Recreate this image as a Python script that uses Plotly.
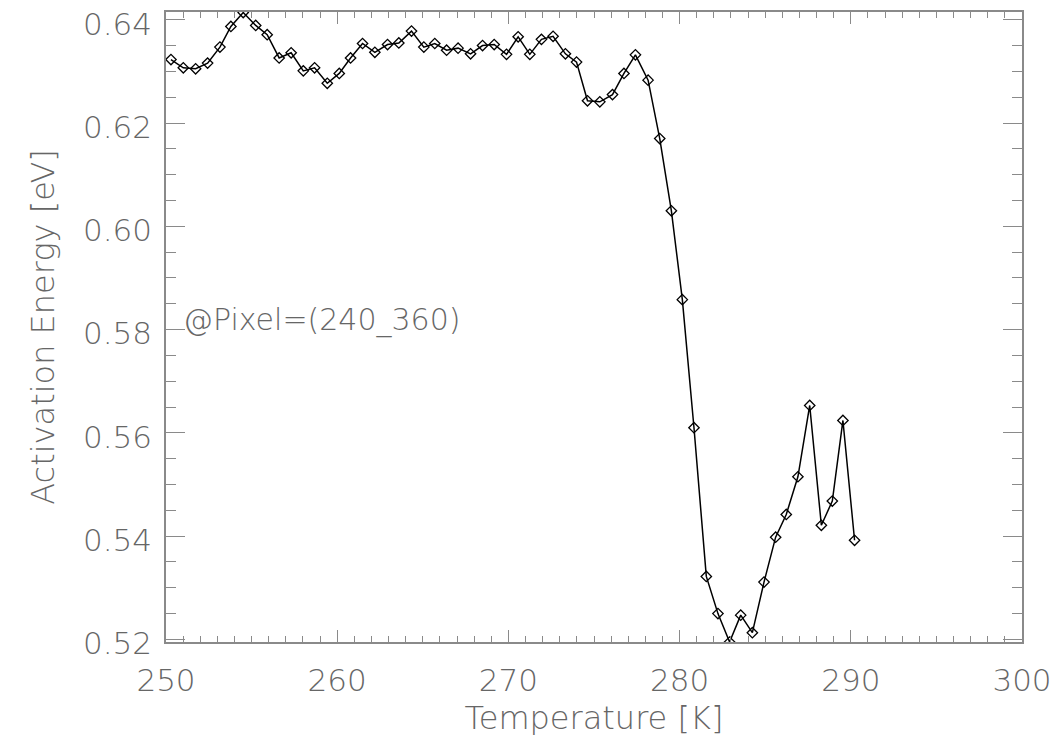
import plotly.graph_objects as go

temperature = [250.29, 251.01, 251.73, 252.43, 253.15, 253.79, 254.51, 255.24, 255.91, 256.61,
               257.31, 258.02, 258.68, 259.42, 260.12, 260.78, 261.48, 262.20, 262.94, 263.60,
               264.34, 265.06, 265.70, 266.39, 267.06, 267.79, 268.49, 269.17, 269.89, 270.57,
               271.25, 271.93, 272.61, 273.33, 273.98, 274.62, 275.34, 276.08, 276.75, 277.42,
               278.16, 278.84, 279.52, 280.16, 280.84, 281.56, 282.24, 282.92, 283.57, 284.25,
               284.93, 285.61, 286.23, 286.91, 287.60, 288.28, 288.92, 289.54, 290.22]
activation_energy = [0.6323, 0.6307, 0.6305, 0.6316, 0.6347, 0.6387, 0.6414, 0.6389, 0.6371, 0.6326,
                     0.6336, 0.6301, 0.6307, 0.6277, 0.6296, 0.6326, 0.6354, 0.6337, 0.6352, 0.6355,
                     0.6378, 0.6347, 0.6354, 0.6341, 0.6345, 0.6334, 0.6350, 0.6352, 0.6333, 0.6367,
                     0.6333, 0.6362, 0.6368, 0.6334, 0.6318, 0.6243, 0.6241, 0.6255, 0.6296, 0.6332,
                     0.6283, 0.6170, 0.6030, 0.5858, 0.5610, 0.5322, 0.5250, 0.5195, 0.5247, 0.5213,
                     0.5311, 0.5398, 0.5442, 0.5515, 0.5653, 0.5421, 0.5468, 0.5624, 0.5392]
x_ticks = [250, 260, 270, 280, 290, 300]
y_ticks = [0.52, 0.54, 0.56, 0.58, 0.60, 0.62, 0.64]
annotation_text = "@Pixel=(240_360)"

GREY = "#666666"
AXIS = "#8a8a8a"
FONT = "DejaVu Sans"
FW = 200

fig = go.Figure()
fig.add_trace(go.Scatter(
    x=temperature, y=activation_energy, mode="lines+markers",
    line=dict(color="black", width=1.5),
    marker=dict(symbol="diamond-open", size=8, color="black", line=dict(width=1.3, color="black")),
    cliponaxis=True, showlegend=False,
))

fig.add_annotation(x=250.9, y=0.5818, xref="x", yref="y", text=annotation_text,
                   showarrow=False, xanchor="left", yanchor="middle",
                   font=dict(family=FONT, size=30, color=GREY, weight=FW))

fig.update_xaxes(range=[250, 300], tickvals=x_ticks, ticktext=[str(v) for v in x_ticks],
                 automargin=False, ticklabeloverflow="allow",
                 showgrid=False, zeroline=False, showline=True, linecolor=AXIS, linewidth=1.5,
                 mirror="allticks", ticks="inside", ticklen=12, tickwidth=1, tickcolor=AXIS,
                 ticklabelstandoff=10,
                 minor=dict(dtick=1, ticks="inside", ticklen=6, tickcolor=AXIS, tickwidth=1, showgrid=False),
                 tickfont=dict(family=FONT, size=31, color=GREY, weight=FW),
                 title=dict(text="Temperature [K]", standoff=10,
                            font=dict(family=FONT, size=32, color=GREY, weight=FW)))
fig.update_yaxes(range=[0.5195, 0.6415], tickvals=y_ticks, ticktext=["%.2f" % v for v in y_ticks],
                 automargin=False, ticklabeloverflow="allow",
                 showgrid=False, zeroline=False, showline=True, linecolor=AXIS, linewidth=1.5,
                 mirror="allticks", ticks="inside", ticklen=19, tickwidth=1, tickcolor=AXIS,
                 ticklabelstandoff=6, ticklabelshift=4,
                 minor=dict(dtick=0.005, tick0=0.52, ticks="inside", ticklen=10, tickcolor=AXIS, tickwidth=1, showgrid=False),
                 tickfont=dict(family=FONT, size=31, color=GREY, weight=FW),
                 title=dict(text="Activation Energy [eV]", standoff=19,
                            font=dict(family=FONT, size=32, color=GREY, weight=FW)))

# page body has an 8px margin, so the figure is offset by 8px
fig.update_layout(width=1051, height=736, margin=dict(l=158, r=37, t=4, b=102),
                  paper_bgcolor="white", plot_bgcolor="white",
                  font=dict(family=FONT, color=GREY))

fig.write_html("out.html")
